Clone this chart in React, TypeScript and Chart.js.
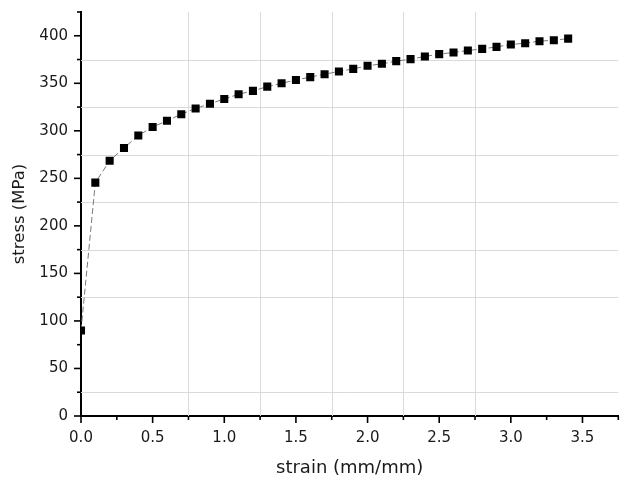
import React, { useEffect, useRef } from "react";
import { Chart, registerables } from "chart.js";

Chart.register(...registerables);

const strain = [
  0.0, 0.1, 0.2, 0.3, 0.4, 0.5, 0.6, 0.7, 0.8, 0.9, 1.0, 1.1, 1.2, 1.3, 1.4, 1.5, 1.6, 1.7,
  1.8, 1.9, 2.0, 2.1, 2.2, 2.3, 2.4, 2.5, 2.6, 2.7, 2.8, 2.9, 3.0, 3.1, 3.2, 3.3, 3.4,
];
const stress = [
  90, 245.5, 268.5, 282, 295, 304, 310.5, 317.5, 323.5, 328.5, 333.5, 338.5, 342, 346.5, 350,
  353.5, 356.5, 359.6, 362.4, 365.2, 368.4, 370.5, 373.3, 375.4, 378.2, 380.7, 382.4, 384.5,
  386.2, 388.3, 390.8, 392.2, 394.3, 395.3, 397,
];
const xGridValues = [0.75, 1.25, 1.75, 2.25, 2.75];
const yGridValues = [25, 125, 175, 225, 275, 325, 375];

const FONT = "'DejaVu Sans', sans-serif";
const TEXT = "#1a1a1a";
const CLEAR = "rgba(0,0,0,0)";

const isMajorX = (v: number) => Math.abs(v * 2 - Math.round(v * 2)) < 1e-6;
const isMajorY = (v: number) => Math.abs(v % 50) < 1e-6;

const axisDecor = {
  id: "axisDecor",
  beforeDatasetsDraw(chart: any) {
    const ctx = chart.ctx;
    const xs = chart.scales.x;
    const ys = chart.scales.y;
    const area = chart.chartArea;
    ctx.save();
    ctx.strokeStyle = "#dadada";
    ctx.lineWidth = 1;
    xGridValues.forEach((v) => {
      const px = Math.round(xs.getPixelForValue(v)) + 0.5;
      ctx.beginPath();
      ctx.moveTo(px, area.top);
      ctx.lineTo(px, area.bottom);
      ctx.stroke();
    });
    yGridValues.forEach((v) => {
      const py = Math.round(ys.getPixelForValue(v)) + 0.5;
      ctx.beginPath();
      ctx.moveTo(area.left, py);
      ctx.lineTo(area.right, py);
      ctx.stroke();
    });
    ctx.restore();
  },
  afterDraw(chart: any) {
    const ctx = chart.ctx;
    const xs = chart.scales.x;
    const ys = chart.scales.y;
    ctx.save();
    ctx.strokeStyle = "#000";
    ctx.lineWidth = 1.6;
    xs.ticks.forEach((t: any) => {
      const len = isMajorX(t.value) ? 7 : 4;
      const px = xs.getPixelForValue(t.value);
      ctx.beginPath();
      ctx.moveTo(px, xs.top);
      ctx.lineTo(px, xs.top + len);
      ctx.stroke();
    });
    ys.ticks.forEach((t: any) => {
      const len = isMajorY(t.value) ? 7 : 4;
      const py = ys.getPixelForValue(t.value);
      ctx.beginPath();
      ctx.moveTo(ys.right, py);
      ctx.lineTo(ys.right - len, py);
      ctx.stroke();
    });
    ctx.restore();
  },
};

export default function App() {
  const ref = useRef<HTMLCanvasElement>(null);
  useEffect(() => {
    if (!ref.current) return;
    const chart = new Chart(ref.current, {
      type: "scatter",
      data: {
        datasets: [
          {
            data: strain.map((x, i) => ({ x, y: stress[i] })),
            showLine: true,
            borderColor: "#7a7a7a",
            borderWidth: 1,
            borderDash: [6, 3],
            pointStyle: "rect",
            pointRadius: 5.7,
            pointBackgroundColor: "#000",
            pointBorderWidth: 0,
            pointHoverRadius: 5.7,
          },
        ],
      },
      options: {
        animation: false,
        responsive: false,
        maintainAspectRatio: false,
        layout: { padding: { left: 0, right: 3, top: 12, bottom: 0 } },
        plugins: { legend: { display: false }, tooltip: { enabled: false } },
        scales: {
          x: {
            type: "linear",
            min: 0,
            max: 3.75,
            afterFit: (s: any) => {
              s.height = 64;
            },
            ticks: {
              stepSize: 0.25,
              autoSkip: false,
              maxRotation: 0,
              padding: 2,
              color: TEXT,
              font: { family: FONT, size: 15 },
              callback: (v: any) => (isMajorX(Number(v)) ? Number(v).toFixed(1) : ""),
            },
            grid: {
              display: true,
              drawOnChartArea: false,
              drawTicks: true,
              tickLength: 11,
              color: CLEAR,
              tickColor: CLEAR,
            },
            border: { display: true, color: "#000", width: 2 },
            title: {
              display: true,
              text: "strain (mm/mm)",
              color: TEXT,
              font: { family: FONT, size: 18 },
              padding: { top: 0, bottom: 1 },
            },
          },
          y: {
            type: "linear",
            min: 0,
            max: 425,
            afterFit: (s: any) => {
              s.width = 81;
            },
            ticks: {
              stepSize: 25,
              autoSkip: false,
              padding: 3,
              color: TEXT,
              font: { family: FONT, size: 15 },
              callback: (v: any) => (isMajorY(Number(v)) ? String(v) : ""),
            },
            grid: {
              display: true,
              drawOnChartArea: false,
              drawTicks: true,
              tickLength: 10,
              color: CLEAR,
              tickColor: CLEAR,
            },
            border: { display: true, color: "#000", width: 2 },
            title: {
              display: true,
              text: "stress (MPa)",
              color: TEXT,
              font: { family: FONT, size: 16.5 },
              padding: { top: 10, bottom: 0 },
            },
          },
        },
      },
      plugins: [axisDecor],
    });
    return () => chart.destroy();
  }, []);
  return (
    <div style={{ position: "absolute", left: 0, top: 0, width: 624, height: 480, background: "#fff" }}>
      <canvas ref={ref} width={624} height={480} style={{ width: 624, height: 480 }} />
    </div>
  );
}
